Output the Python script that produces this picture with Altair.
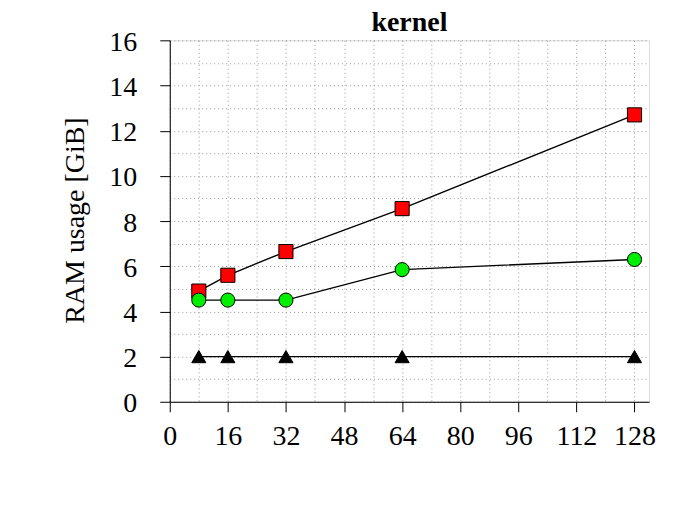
import altair as alt
import pandas as pd

threads = [8, 16, 32, 64, 128]
series_red = [4.9, 5.6, 6.65, 8.55, 12.7]
series_green = [4.5, 4.5, 4.5, 5.85, 6.3]
series_black = [2, 2, 2, 2, 2]
series_names = ["red", "green", "black"]
x_ticks = [0, 16, 32, 48, 64, 80, 96, 112, 128]
x_grid = list(range(0, 133, 8))
y_ticks = list(range(0, 17, 2))
y_grid = list(range(0, 17, 1))

rows = []
for name, vals in zip(series_names, [series_red, series_green, series_black]):
    for t, v in zip(threads, vals):
        rows.append({"threads": t, "ram": v, "series": name})
df = pd.DataFrame(rows)

FONT = "Liberation Serif"
xscale = alt.Scale(domain=[0, 132], nice=False, zero=False)
yscale = alt.Scale(domain=[0, 16], nice=False)

grid_axis_x = alt.Axis(values=x_grid, grid=True, gridDash=[1, 3], gridColor="#999999",
                       gridWidth=1, labels=False, ticks=False, domain=False, title=None, orient="bottom")
grid_axis_y = alt.Axis(values=y_grid, grid=True, gridDash=[1, 3], gridColor="#999999",
                       gridWidth=1, labels=False, ticks=False, domain=False, title=None, orient="left")

main_axis_x = alt.Axis(values=x_ticks, grid=False, orient="bottom", title=None,
                       labelFont=FONT, labelFontSize=28, labelColor="black",
                       tickSize=10, tickColor="black", domainColor="black",
                       labelPadding=11, labelFlush=False)
main_axis_y = alt.Axis(values=y_ticks, grid=False, orient="left", title="RAM usage [GiB]",
                       labelFont=FONT, labelFontSize=28, labelColor="black",
                       tickSize=10, tickColor="black", domainColor="black",
                       labelPadding=23, labelOffset=2, titleFont=FONT, titleFontSize=28,
                       titleFontWeight="normal", titleColor="black",
                       titleX=-94, titleY=180, titleBaseline="middle", titleAngle=270)

lines = alt.Chart(df).mark_line(color="black", strokeWidth=1.4).encode(
    x=alt.X("threads:Q", scale=xscale, axis=grid_axis_x),
    y=alt.Y("ram:Q", scale=yscale, axis=grid_axis_y),
    detail="series:N",
)

points = alt.Chart(df).mark_point(filled=True, stroke="black", strokeWidth=1, opacity=1).encode(
    x=alt.X("threads:Q", scale=xscale, axis=main_axis_x),
    y=alt.Y("ram:Q", scale=yscale, axis=main_axis_y),
    shape=alt.Shape("series:N", scale=alt.Scale(domain=series_names,
                    range=["square", "circle", "triangle-up"]), legend=None),
    fill=alt.Fill("series:N", scale=alt.Scale(domain=series_names,
                  range=["#ff0000", "#00ee00", "#000000"]), legend=None),
    size=alt.Size("series:N", scale=alt.Scale(domain=series_names,
                  range=[200, 200, 580]), legend=None),
)

chart = alt.layer(lines, points).resolve_axis(x="independent", y="independent").properties(
    width=480, height=362,
    title=alt.TitleParams("kernel", font=FONT, fontSize=28, fontWeight="bold",
                          color="black", anchor="middle", offset=4, frame="group", dy=13),
    autosize=alt.AutoSizeParams(type="none"),
    padding={"left": 162, "top": 32, "right": 20, "bottom": 100},
).configure_view(stroke="#666666", strokeWidth=1.2).configure(background="white")

chart.save("out.html", embed_options={"renderer": "svg", "actions": False})
